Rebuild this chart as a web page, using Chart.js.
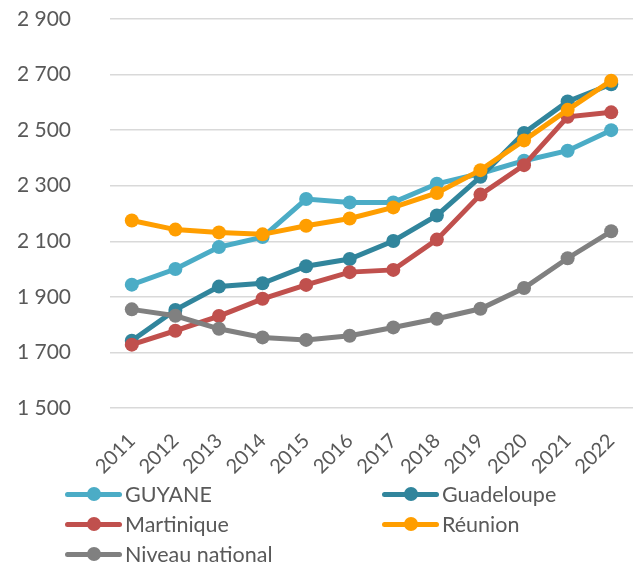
<!DOCTYPE html>
<html lang="fr">
<head>
<meta charset="utf-8">
<script src="https://cdn.jsdelivr.net/npm/chart.js@4/dist/chart.umd.min.js"></script>
<style>
    html, body { margin: 0; padding: 0; background: #fff; overflow: hidden; }
    #wrap { width: 633px; height: 563px; position: relative; overflow: hidden; }
    #chart-box { width: 633px; height: 480px; position: relative; }
    #legend {
        position: absolute; left: 65px; top: 479px;
        display: grid; grid-template-columns: 317px 250px; grid-auto-rows: 30px;
        font-family: Lato, sans-serif; font-size: 21.5px; color: #595959;
    }
    .item { display: flex; align-items: center; white-space: nowrap; }
    .mark { position: relative; width: 57px; height: 14px; margin-right: 3px; }
    .mark .ln { position: absolute; left: 0; right: 0; top: 4.5px; height: 5px; border-radius: 3px; }
    .mark .pt { position: absolute; left: 21.5px; top: 0; width: 14px; height: 14px; border-radius: 50%; }
</style>
</head>
<body>
<div id="wrap">
    <div id="chart-box"><canvas id="salaire-chart"></canvas></div>
    <div id="legend"></div>
</div>
<script>
var years = ['2011', '2012', '2013', '2014', '2015', '2016', '2017', '2018', '2019', '2020', '2021', '2022'];

var guyane = [1944, 2000, 2079, 2115, 2252, 2240, 2240, 2307, 2344, 2390, 2426, 2500];
var guadeloupe = [1742, 1853, 1937, 1949, 2010, 2036, 2101, 2193, 2332, 2490, 2603, 2665];
var martinique = [1728, 1778, 1831, 1893, 1943, 1989, 1997, 2106, 2268, 2374, 2548, 2564];
var reunion = [2175, 2142, 2132, 2125, 2156, 2182, 2222, 2274, 2356, 2463, 2573, 2678];
var national = [1855, 1832, 1785, 1754, 1745, 1760, 1790, 1821, 1857, 1932, 2039, 2136];

var seriesNames = ['GUYANE', 'Guadeloupe', 'Martinique', 'Réunion', 'Niveau national'];
var seriesColors = ['#4BACC6', '#31859C', '#C0504D', '#FF9E00', '#808080'];

var yMin = 1500;
var yMax = 2900;
var yStep = 200;

function formatThousands(v) {
    return String(v).replace(/\B(?=(\d{3})+(?!\d))/g, ' ');
}

var seriesData = [guyane, guadeloupe, martinique, reunion, national];

var datasets = seriesData.map(function (values, i) {
    return {
        label: seriesNames[i],
        data: values,
        borderColor: seriesColors[i],
        backgroundColor: seriesColors[i],
        pointBackgroundColor: seriesColors[i],
        pointBorderColor: seriesColors[i],
        borderWidth: 5,
        pointRadius: 7,
        pointBorderWidth: 0,
        pointHoverRadius: 7,
        tension: 0,
        clip: false,
        // last series sits on top
        order: seriesData.length - 1 - i,
    };
});

new Chart(document.getElementById('salaire-chart'), {
    type: 'line',
    data: { labels: years, datasets: datasets },
    options: {
        responsive: true,
        maintainAspectRatio: false,
        animation: false,
        layout: { autoPadding: false, padding: { top: 19, right: 0, left: 0, bottom: 0 } },
        scales: {
            x: {
                offset: true,
                grid: { display: false, drawTicks: false },
                border: { display: false },
                ticks: {
                    color: '#595959',
                    font: { family: 'Lato', size: 20 },
                    minRotation: 45,
                    maxRotation: 45,
                    autoSkip: false,
                    padding: 21,
                },
                afterFit: function (scale) {
                    scale.height = 72;
                    scale.paddingLeft = 0;
                    scale.paddingRight = 0;
                },
            },
            y: {
                min: yMin,
                max: yMax,
                grid: { color: '#D9D9D9', lineWidth: 1.5, drawTicks: false },
                border: { display: false },
                ticks: {
                    stepSize: yStep,
                    color: '#595959',
                    font: { family: 'Lato', size: 21 },
                    padding: 39,
                    callback: function (v) { return formatThousands(v); },
                },
                afterFit: function (scale) {
                    scale.width = 110;
                    scale.paddingTop = 0;
                    scale.paddingBottom = 0;
                },
            },
        },
        plugins: {
            legend: { display: false },
            tooltip: { enabled: false },
        },
    },
});

// legend in two columns under the chart
var legendBox = document.getElementById('legend');
seriesNames.forEach(function (name, i) {
    var item = document.createElement('div');
    item.className = 'item';
    item.innerHTML = '<span class="mark"><span class="ln" style="background:' + seriesColors[i] +
        '"></span><span class="pt" style="background:' + seriesColors[i] + '"></span></span>' + name;
    legendBox.appendChild(item);
});
</script>
</body>
</html>
